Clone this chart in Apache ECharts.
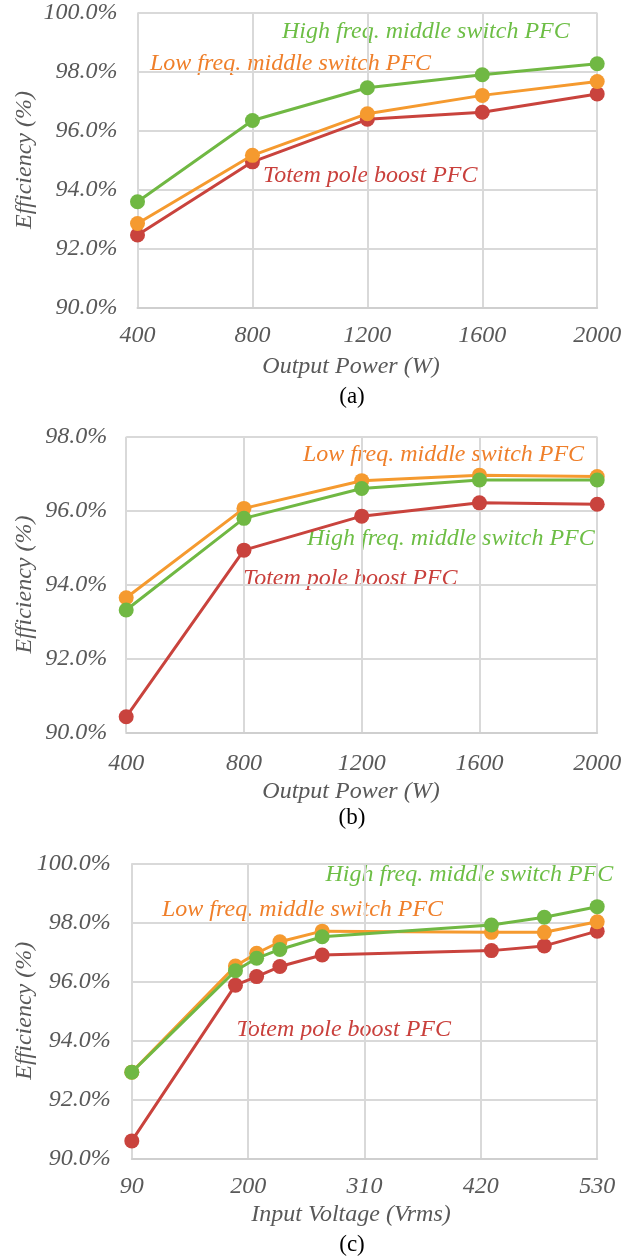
<!DOCTYPE html>
<html>
<head>
<meta charset="utf-8">
<script src="https://cdn.jsdelivr.net/npm/echarts@6/dist/echarts.min.js"></script>
<style>
  html, body { margin: 0; padding: 0; background: #ffffff; }
  #chart { width: 634px; height: 1260px; }
</style>
</head>
<body>
<div id="chart"></div>
<script>
// (a) efficiency vs output power
const powerA = [400, 800, 1200, 1600, 2000];
const totemA = [92.47, 94.95, 96.39, 96.63, 97.25];
const lowA   = [92.86, 95.17, 96.58, 97.20, 97.67];
const highA  = [93.60, 96.35, 97.46, 97.90, 98.27];

// (b) efficiency vs output power
const powerB = [400, 800, 1200, 1600, 2000];
const totemB = [90.42, 94.93, 95.85, 96.21, 96.17];
const lowB   = [93.64, 96.06, 96.81, 96.96, 96.92];
const highB  = [93.31, 95.79, 96.60, 96.83, 96.83];

// (c) efficiency vs input voltage
const voltC = [90, 188, 208, 230, 270, 430, 480, 530];
const totemC = [90.59, 95.87, 96.16, 96.50, 96.89, 97.04, 97.20, 97.70];
const lowC   = [92.92, 96.52, 96.95, 97.34, 97.70, 97.66, 97.66, 98.02];
const highC  = [92.92, 96.36, 96.78, 97.08, 97.51, 97.91, 98.17, 98.53];
const voltTicks = [90, 200, 310, 420, 530];

const seriesNames = ['Totem pole boost PFC', 'Low freq. middle switch PFC', 'High freq. middle switch PFC'];
const lineColors = ['#C9433D', '#F59A2F', '#70B843'];
const textColors = ['#C9403C', '#EF7F2A', '#6DBE45'];

const FONT = '"Liberation Serif", "Times New Roman", serif';
const gray = '#595959';
const gridColor = '#D9D9D9';
const FS = 24;

const chart = echarts.init(document.getElementById('chart'), null, { renderer: 'canvas' });

const grids = [
  { left: 137.5, right: 36.8, top: 12.7, height: 295.3 },
  { left: 126.2, right: 36.8, top: 436.7, height: 295.6 },
  { left: 131.8, right: 36.8, top: 863.3, height: 295.0 }
].map(g => Object.assign({ outerBoundsMode: 'none', containLabel: false }, g));

const axisText = { fontFamily: FONT, fontStyle: 'italic', fontSize: FS, color: gray };

function xAxisFor(idx, min, max, interval, margin, custom) {
  const ax = {
    type: 'value', gridIndex: idx, min: min, max: max, interval: interval,
    axisLine: { show: true, lineStyle: { color: '#CFCFCF', width: 2 } },
    axisTick: { show: false },
    splitLine: { show: true, lineStyle: { color: gridColor, width: 2 } },
    axisLabel: Object.assign({
      margin: margin, showMinLabel: true, showMaxLabel: true,
      formatter: v => String(v)
    }, axisText)
  };
  if (custom) {
    ax.axisTick.customValues = custom;
    ax.axisLabel.customValues = custom;
  }
  return ax;
}

function yAxisFor(idx, min, max, margin) {
  return {
    type: 'value', gridIndex: idx, min: min, max: max, interval: 2,
    axisLine: { show: false },
    axisTick: { show: false },
    splitLine: { show: true, lineStyle: { color: gridColor, width: 2 } },
    axisLabel: Object.assign({ margin: margin, formatter: v => v.toFixed(1) + '%' }, axisText)
  };
}

function pairs(xs, ys) { return xs.map((x, i) => [x, ys[i]]); }

function seriesFor(idx, xs, sets) {
  return sets.map((ys, k) => ({
    name: seriesNames[k],
    type: 'line',
    xAxisIndex: idx, yAxisIndex: idx,
    data: pairs(xs, ys),
    symbol: 'circle', symbolSize: 15,
    showSymbol: true,
    lineStyle: { color: lineColors[k], width: 3 },
    itemStyle: { color: lineColors[k] },
    z: 3 + k,
    animation: false
  }));
}

function label(text, k, x, y) {
  return {
    type: 'text', x: x, y: y,
    style: { text: text, fill: textColors[k], textAlign: 'left', textVerticalAlign: 'middle', font: 'italic ' + FS + 'px ' + FONT }
  };
}
function centered(text, x, y, italic, fill, size) {
  return {
    type: 'text', x: x, y: y,
    style: {
      text: text, fill: fill, textAlign: 'center', textVerticalAlign: 'middle',
      font: (italic ? 'italic ' : '') + size + 'px ' + FONT
    }
  };
}
function yTitle(x, y) {
  return {
    type: 'text', x: x, y: y, rotation: Math.PI / 2,
    style: {
      text: 'Efficiency (%)', fill: gray, textAlign: 'center', textVerticalAlign: 'middle',
      font: 'italic ' + FS + 'px ' + FONT
    }
  };
}

const option = {
  backgroundColor: '#ffffff',
  animation: false,
  grid: grids,
  xAxis: [
    xAxisFor(0, 400, 2000, 400, 16),
    xAxisFor(1, 400, 2000, 400, 19),
    xAxisFor(2, 90, 530, 110, 16, voltTicks)
  ],
  yAxis: [
    yAxisFor(0, 90, 100, 20),
    yAxisFor(1, 90, 98, 19),
    yAxisFor(2, 90, 100, 21)
  ],
  series: [].concat(
    seriesFor(0, powerA, [totemA, lowA, highA]),
    seriesFor(1, powerB, [totemB, lowB, highB]),
    seriesFor(2, voltC, [totemC, lowC, highC])
  ),
  graphic: [
    // (a)
    label(seriesNames[2], 2, 282, 31.7),
    label(seriesNames[1], 1, 150, 63.3),
    label(seriesNames[0], 0, 263, 175.7),
    yTitle(25, 160),
    centered('Output Power (W)', 351, 366.7, true, gray, FS),
    centered('(a)', 352, 396.5, false, '#000000', 23),
    // (b)
    label(seriesNames[1], 1, 303, 455),
    label(seriesNames[2], 2, 307, 538.3),
    label(seriesNames[0], 0, 243, 578.3),
    yTitle(25, 584.5),
    centered('Output Power (W)', 351, 791.7, true, gray, FS),
    centered('(b)', 352, 818.3, false, '#000000', 23),
    // (c)
    label(seriesNames[2], 2, 325.5, 875),
    label(seriesNames[1], 1, 162, 910),
    label(seriesNames[0], 0, 236.5, 1030),
    yTitle(25, 1010.8),
    centered('Input Voltage (Vrms)', 351, 1215, true, gray, FS),
    centered('(c)', 352, 1245, false, '#000000', 23)
  ]
};

chart.setOption(option);
</script>
</body>
</html>
